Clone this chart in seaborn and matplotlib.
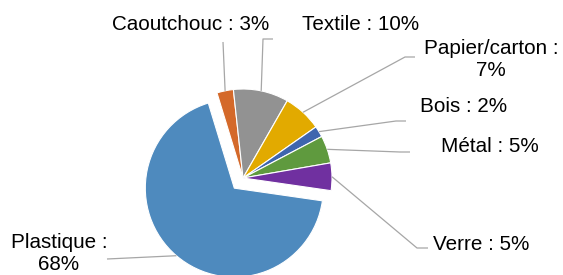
import numpy as np
import matplotlib
matplotlib.use("Agg")
import matplotlib.pyplot as plt
import seaborn as sns

# data (percent of waste by material)
materials = ["Caoutchouc", "Textile", "Papier/carton", "Bois", "Métal", "Verre", "Plastique"]
shares = [3, 10, 7, 2, 5, 5, 68]
colors = ["#D4692A", "#929292", "#E2AA00", "#3E65AE", "#5F9A3E", "#7030A0", "#4E8ABE"]
explode = [0, 0, 0, 0, 0, 0, 0.15]

# label layout in pixel coords (x from left, y from top) and leader line start points
label_text = ["Caoutchouc : 3%", "Textile : 10%", "Papier/carton :\n7%", "Bois : 2%",
              "Métal : 5%", "Verre : 5%", "Plastique :\n68%"]
label_pos = [(191, 24), (361, 25), (491, 60), (464, 106), (490, 146), (481, 244), (59, 253)]
leader_pts = [
    [(223, 42)],
    [(273, 39), (263, 39)],
    [(415, 57), (405, 57)],
    [(406, 121), (396, 121)],
    [(410, 152), (400, 152)],
    [(428, 248), (417, 248)],
    [(107, 259)],
]

W, H = 563, 275
center_px = (243, 178)
radius = 89
start = 107

sns.set_theme(style="white")
plt.rcParams["font.family"] = ["Liberation Sans", "DejaVu Sans"]


def px(x, y):
    return x, H - y


fig = plt.figure(figsize=(W / 100, H / 100), dpi=100)
ax = fig.add_axes([0, 0, 1, 1])

cx, cy = px(*center_px)
# matplotlib's explode is in data units, so scale the fractions by the radius
wedges, _ = ax.pie(shares, colors=colors, explode=[e * radius for e in explode],
                   startangle=start, counterclock=False, radius=radius, center=(cx, cy),
                   wedgeprops=dict(edgecolor="white", linewidth=0.8))

ax.set_xlim(0, W)
ax.set_ylim(0, H)
ax.set_aspect("equal")
ax.axis("off")

for w, ex, txt, pos, pts in zip(wedges, explode, label_text, label_pos, leader_pts):
    mid = np.deg2rad((w.theta1 + w.theta2) / 2)
    d = np.array([np.cos(mid), np.sin(mid)])
    anchor = np.array([cx, cy]) + d * radius * (1 + ex)
    line = [px(*p) for p in pts] + [tuple(anchor)]
    xs, ys = zip(*line)
    ax.plot(xs, ys, color="#A6A6A6", linewidth=0.9, solid_capstyle="butt", zorder=1)
    ax.text(*px(*pos), txt, ha="center", va="center", fontsize=14.9,
            color="#000000", multialignment="center", linespacing=1.2)

fig.savefig("out.png", dpi=100)
